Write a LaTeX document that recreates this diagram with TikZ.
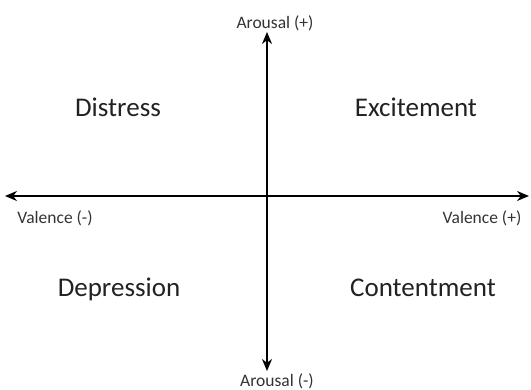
\documentclass[tikz,border=0pt]{standalone}
\usepackage{fontspec}
\setmainfont{Carlito}
\usetikzlibrary{arrows.meta}
\definecolor{labelgray}{HTML}{222222}
\definecolor{axisgray}{HTML}{333333}
\begin{document}
\begin{tikzpicture}[x=1pt, y=-1pt,
  axis/.style={line width=2.6pt, {Stealth[length=12pt,width=10pt]}-{Stealth[length=12pt,width=10pt]}},
  quadrant/.style={font=\fontsize{27}{30}\selectfont, text=labelgray, anchor=base, inner sep=0pt},
  axislabel/.style={font=\fontsize{17.5}{20}\selectfont, text=axisgray, anchor=base, inner sep=0pt}]
\useasboundingbox (0,0) rectangle (531,390);
% axis ends
\coordinate (west) at (5,196);
\coordinate (east) at (529,196);
\coordinate (north) at (267,32);
\coordinate (south) at (267,371);
\draw[axis] (west) -- (east);
\draw[axis] (north) -- (south);
% axis labels
\node[axislabel] (arplus) at (275,29) {Arousal (+)};
\node[axislabel] (arminus) at (277,387) {Arousal (-)};
\node[axislabel] (valminus) at (55,224) {Valence (-)};
\node[axislabel] (valplus) at (482,224) {Valence (+)};
% quadrants
\node[quadrant] (distress) at (118,117) {Distress};
\node[quadrant] (excitement) at (416,117) {Excitement};
\node[quadrant] (depression) at (119,297) {Depression};
\node[quadrant] (contentment) at (423,297) {Contentment};
\end{tikzpicture}
\end{document}
